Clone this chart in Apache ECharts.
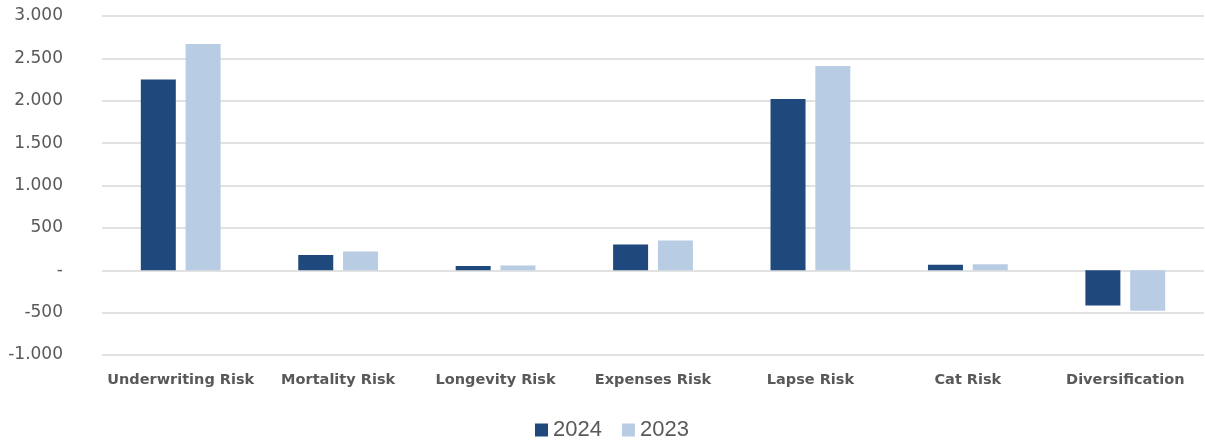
<!DOCTYPE html>
<html><head><meta charset="utf-8">
<script src="https://cdn.jsdelivr.net/npm/echarts@6/dist/echarts.min.js"></script>
<style>html,body{margin:0;padding:0;background:#fff}#c{width:1205px;height:443px}</style>
</head><body><div id="c"></div>
<script>
const categories = ['Underwriting Risk','Mortality Risk','Longevity Risk','Expenses Risk','Lapse Risk','Cat Risk','Diversification'];
const values2024 = [2250, 180, 50, 305, 2020, 65, -415];
const values2023 = [2670, 220, 55, 350, 2410, 70, -478];
const seriesNames = ['2024','2023'];

function fmt(v){
  if (v === 0) return '-';
  const s = Math.abs(v).toString().replace(/\B(?=(\d{3})+(?!\d))/g, '.');
  return (v < 0 ? '-' : '') + s;
}
const chart = echarts.init(document.getElementById('c'));
chart.setOption({
  animation:false,
  grid:{left:102,right:1,top:16,bottom:88},
  legend:{
    top:419,left:535,padding:0,itemWidth:13,itemHeight:13,itemGap:20,
    icon:'rect',
    textStyle:{fontFamily:'Liberation Sans',fontSize:22,lineHeight:22,color:'#595959'},
    data:seriesNames
  },
  xAxis:{
    type:'category',data:categories,
    axisLine:{show:false},axisTick:{show:false},
    axisLabel:{fontFamily:'DejaVu Sans',fontWeight:'bold',fontSize:14.5,color:'#595959',margin:18,interval:0}
  },
  yAxis:{
    type:'value',min:-1000,max:3000,interval:500,
    axisLine:{show:false},axisTick:{show:false},
    splitLine:{lineStyle:{color:'#D9D9D9',width:1.5}},
    axisLabel:{formatter:fmt,fontFamily:'DejaVu Sans',fontSize:17,color:'#595959',margin:39}
  },
  series:[
    {name:'2024',type:'bar',data:values2024,barWidth:35,barGap:'28%',
     itemStyle:{color:'#1F497D'}},
    {name:'2023',type:'bar',data:values2023,barWidth:35,
     itemStyle:{color:'#B8CCE4'}}
  ]
});
</script></body></html>
